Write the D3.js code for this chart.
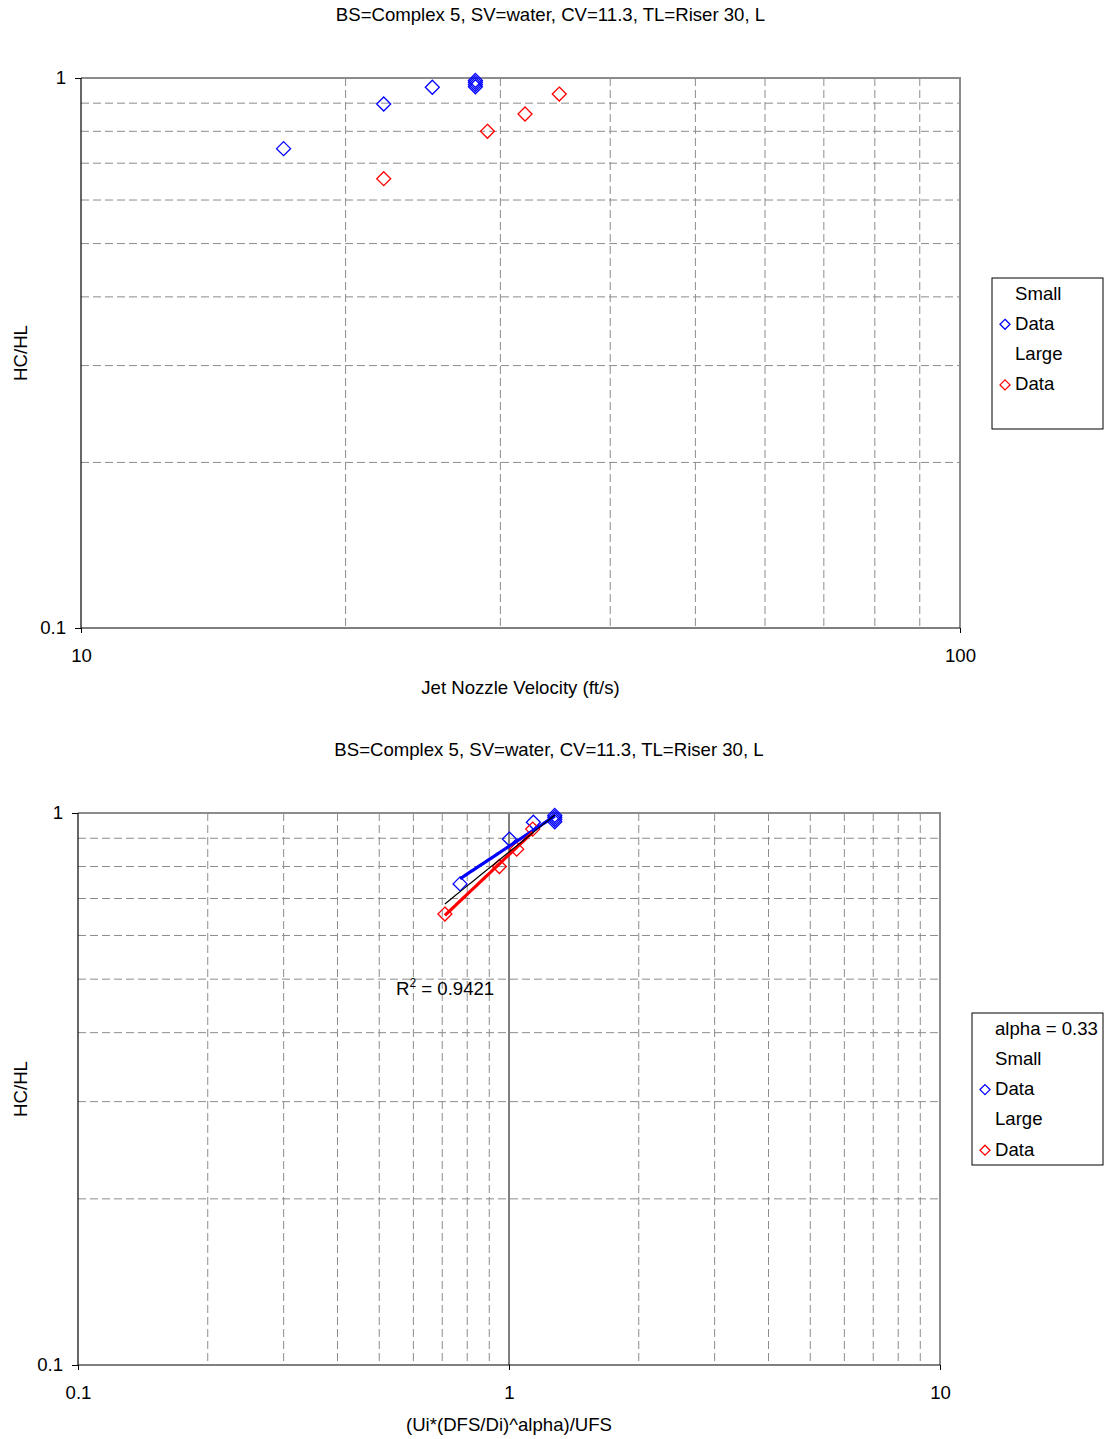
<!DOCTYPE html>
<html>
<head>
<meta charset="utf-8">
<script src="https://cdn.jsdelivr.net/npm/d3@7"></script>
<style>
  body { margin: 0; background: #fff; }
  svg { display: block; font-family: "Liberation Sans", Arial, sans-serif; }
</style>
</head>
<body>
<svg id="chart" width="1104" height="1439"></svg>
<script>
// chart data
const chartTitle = 'BS=Complex 5, SV=water, CV=11.3, TL=Riser 30, L';
const yLabel = 'HC/HL';
const topXLabel = 'Jet Nozzle Velocity (ft/s)';
const bottomXLabel = '(Ui*(DFS/Di)^alpha)/UFS';

const smallVelocity = [17.0, 22.1, 25.1, 28.1, 28.1, 28.1, 28.1];
const smallHC = [0.744, 0.897, 0.962, 0.990, 0.982, 0.973, 0.964];
const largeVelocity = [22.1, 29.0, 32.0, 35.0];
const largeHC = [0.656, 0.800, 0.860, 0.935];

const smallScaled = [0.770, 1.002, 1.139, 1.277, 1.277, 1.277, 1.277];
const largeScaled = [0.710, 0.950, 1.042, 1.135];

const topXTicks = [10, 100];
const bottomXTicks = [0.1, 1, 10];
const yTicks = [0.1, 1];
const topLegend = ['Small', 'Data', 'Large', 'Data'];
const bottomLegend = ['alpha = 0.33', 'Small', 'Data', 'Large', 'Data'];
const rSquared = '0.9421';

const blue = '#0000ff', red = '#ff0000';
const fs = 18.6;
const svg = d3.select('#chart');

function minors(domain) {
    const out = [];
    for (let d = domain[0]; d < domain[1] - 1e-9; d *= 10) {
        for (let k = 2; k <= 9; k++) out.push(d * k);
    }
    return out;
}

const diamond = (r) => `M0,${-r}L${r},0L0,${r}L${-r},0Z`;

// least squares power fit: log y = a + b log x
function powerFit(xs, ys) {
    const lx = xs.map(Math.log), ly = ys.map(Math.log);
    const mx = d3.mean(lx), my = d3.mean(ly);
    const b = d3.sum(lx, (v, i) => (v - mx) * (ly[i] - my)) / d3.sum(lx, (v) => (v - mx) * (v - mx));
    const a = my - b * mx;
    return (x) => Math.exp(a + b * Math.log(x));
}

function drawPanel(opts) {
    const {left, right, top, bottom, xDomain, xTicks, xLabel, series, legend, legendBox, showMajorX} = opts;
    const g = svg.append('g');
    const x = d3.scaleLog().domain(xDomain).range([left, right]);
    const y = d3.scaleLog().domain([0.1, 1]).range([bottom, top]);

    // title
    g.append('text')
        .attr('x', (left + right) / 2 + opts.titleShift)
        .attr('y', top - 57)
        .attr('text-anchor', 'middle')
        .attr('font-size', fs)
        .text(chartTitle);

    // minor gridlines
    g.append('g').selectAll('line').data(minors(xDomain)).join('line')
        .attr('x1', (d) => x(d)).attr('x2', (d) => x(d))
        .attr('y1', top).attr('y2', bottom)
        .attr('stroke', '#8c8c8c').attr('stroke-dasharray', '8,4');
    g.append('g').selectAll('line').data(minors([0.1, 1])).join('line')
        .attr('x1', left).attr('x2', right)
        .attr('y1', (d) => y(d)).attr('y2', (d) => y(d))
        .attr('stroke', '#8c8c8c').attr('stroke-dasharray', '8,4');

    if (showMajorX) {
        g.append('g').selectAll('line').data(xTicks.slice(1, -1)).join('line')
            .attr('x1', (d) => x(d)).attr('x2', (d) => x(d))
            .attr('y1', top).attr('y2', bottom)
            .attr('stroke', '#000');
    }

    // plot border (top and right grey)
    g.append('path')
        .attr('d', `M${left},${top}H${right}V${bottom}`)
        .attr('fill', 'none').attr('stroke', '#8c8c8c').attr('stroke-width', 2);

    // axes
    const xAxis = d3.axisBottom(x).tickValues(xTicks).tickFormat((d) => String(d)).tickSize(5).tickPadding(16);
    const yAxis = d3.axisLeft(y).tickValues(yTicks).tickFormat((d) => String(d)).tickSize(6).tickPadding(9);
    const ax = g.append('g').attr('transform', `translate(0,${bottom})`).call(xAxis);
    const ay = g.append('g').attr('transform', `translate(${left},0)`).call(yAxis);
    [ax, ay].forEach((a) => {
        a.select('.domain').attr('stroke', '#000').attr('stroke-width', 1.2);
        a.selectAll('.tick line').attr('stroke', '#000');
        a.selectAll('text').attr('font-size', fs).attr('font-family', '"Liberation Sans", Arial, sans-serif').attr('fill', '#000');
    });
    ax.select('.domain').attr('d', `M${left},0H${right}`);
    ay.select('.domain').attr('d', `M0,${bottom}V${top}`);

    // axis labels
    g.append('text')
        .attr('x', (left + right) / 2)
        .attr('y', bottom + 66)
        .attr('text-anchor', 'middle').attr('font-size', fs)
        .text(xLabel);
    g.append('text')
        .attr('transform', `translate(27,${(top + bottom) / 2}) rotate(-90)`)
        .attr('text-anchor', 'middle').attr('font-size', fs)
        .text(yLabel);

    // markers
    series.forEach((s) => {
        g.append('g').selectAll('path').data(s.xs).join('path')
            .attr('d', diamond(7))
            .attr('transform', (d, i) => `translate(${x(d)},${y(s.ys[i])})`)
            .attr('fill', 'none').attr('stroke', s.color).attr('stroke-width', 1.3);
    });

    // trendlines
    (opts.trends || []).forEach((t) => {
        const f = powerFit(t.xs, t.ys);
        const lo = d3.min(t.xs), hi = d3.max(t.xs);
        const pts = d3.range(0, 21).map((i) => lo * Math.pow(hi / lo, i / 20));
        const line = d3.line().x((d) => x(d)).y((d) => y(f(d)));
        g.append('path')
            .attr('d', line(pts))
            .attr('fill', 'none').attr('stroke', t.color).attr('stroke-width', t.width);
    });

    if (opts.annotation) {
        const t = g.append('text')
            .attr('x', opts.annotation.x).attr('y', opts.annotation.y)
            .attr('font-size', fs);
        t.append('tspan').text('R');
        t.append('tspan').attr('font-size', 12).attr('dy', -8).text('2');
        t.append('tspan').attr('dy', 8).text(' = ' + rSquared);
    }

    // legend
    const lg = g.append('g');
    lg.append('rect')
        .attr('x', legendBox.x).attr('y', legendBox.y)
        .attr('width', legendBox.w).attr('height', legendBox.h)
        .attr('fill', '#fff').attr('stroke', '#000');
    legend.forEach((label, i) => {
        const cy = legendBox.y + 15 + i * 30.3;
        lg.append('text')
            .attr('x', legendBox.x + 23).attr('y', cy + 6.5)
            .attr('font-size', fs).text(label);
        const mark = legendBox.marks[i];
        if (mark) {
            lg.append('path')
                .attr('d', diamond(5))
                .attr('transform', `translate(${legendBox.x + 13},${cy + 1})`)
                .attr('fill', 'none').attr('stroke', mark).attr('stroke-width', 1.3);
        }
    });
}

drawPanel({
    left: 81, right: 960, top: 78, bottom: 628,
    titleShift: 30,
    xDomain: [10, 100], xTicks: topXTicks, xLabel: topXLabel,
    showMajorX: false,
    series: [
        {xs: smallVelocity, ys: smallHC, color: blue},
        {xs: largeVelocity, ys: largeHC, color: red},
    ],
    legend: topLegend,
    legendBox: {x: 992, y: 278, w: 111, h: 151, marks: [null, blue, null, red]},
});

drawPanel({
    left: 78, right: 940, top: 813, bottom: 1365,
    titleShift: 40,
    xDomain: [0.1, 10], xTicks: bottomXTicks, xLabel: bottomXLabel,
    showMajorX: true,
    series: [
        {xs: smallScaled, ys: smallHC, color: blue},
        {xs: largeScaled, ys: largeHC, color: red},
    ],
    trends: [
        {xs: smallScaled, ys: smallHC, color: blue, width: 3.2},
        {xs: largeScaled, ys: largeHC, color: red, width: 3.2},
        {xs: smallScaled.concat(largeScaled), ys: smallHC.concat(largeHC), color: '#000', width: 1.2},
    ],
    annotation: {x: 396, y: 995},
    legend: bottomLegend,
    legendBox: {x: 972, y: 1013, w: 131, h: 152, marks: [null, null, blue, null, red]},
});
</script>
</body>
</html>
